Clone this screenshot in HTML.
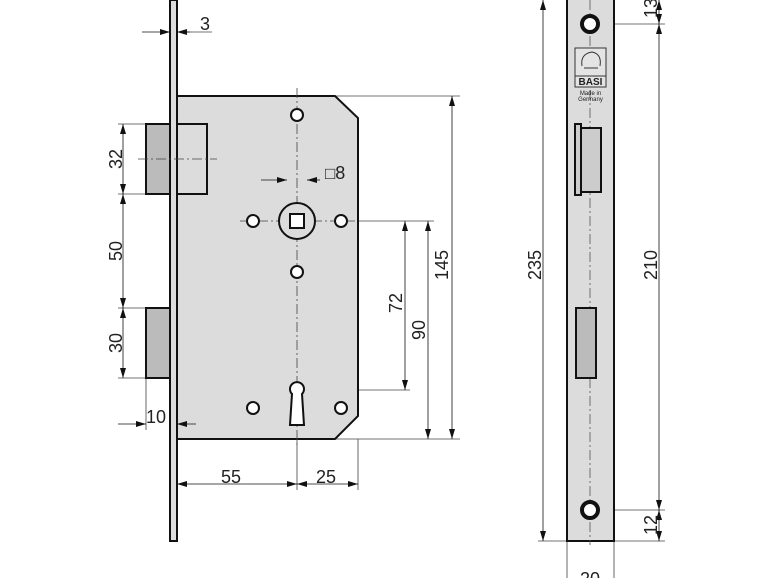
<!DOCTYPE html>
<html><head><style>body{margin:0;background:#fff}svg{display:block}text{font-family:"Liberation Sans",sans-serif;fill:#222}</style></head><body>
<svg width="770" height="578" viewBox="0 0 770 578">
<defs>
<marker id="a" viewBox="0 0 10 6" refX="10" refY="3" markerWidth="10" markerHeight="6" orient="auto-start-reverse" markerUnits="userSpaceOnUse"><path d="M0,0L10,3L0,6z" fill="#111"/></marker>
</defs>
<g stroke="#444" stroke-width="0.8" fill="none">
<line x1="118" y1="124" x2="146" y2="124"/><line x1="118" y1="194" x2="146" y2="194"/>
<line x1="118" y1="308" x2="146" y2="308"/><line x1="118" y1="378" x2="146" y2="378"/>
<line x1="146" y1="378" x2="146" y2="430"/>
<line x1="177" y1="439" x2="177" y2="490"/><line x1="297" y1="439" x2="297" y2="490"/><line x1="358" y1="439" x2="358" y2="490"/>
<line x1="335" y1="96" x2="460" y2="96"/><line x1="341" y1="221" x2="434" y2="221"/>
<line x1="305" y1="390" x2="410" y2="390"/><line x1="335" y1="439" x2="460" y2="439"/>
<line x1="287" y1="175" x2="287" y2="215"/><line x1="307" y1="175" x2="307" y2="215"/>
<line x1="600" y1="24" x2="665" y2="24"/><line x1="600" y1="510" x2="665" y2="510"/>
<line x1="538" y1="541" x2="665" y2="541"/>
<line x1="567" y1="541" x2="567" y2="578"/><line x1="614" y1="541" x2="614" y2="578"/>
<line x1="177" y1="32" x2="212" y2="32"/>
</g>
<rect x="170" y="0" width="7" height="541" fill="#ddd" stroke="#111" stroke-width="2"/>
<path d="M177,96H335L358,118V416L335,439H177z" fill="#dcdcdc" stroke="#111" stroke-width="2"/>
<rect x="146" y="124" width="24" height="70" fill="#bbb" stroke="#111" stroke-width="2"/>
<rect x="177" y="124" width="30" height="70" fill="#dcdcdc" stroke="#111" stroke-width="2"/>
<rect x="146" y="308" width="24" height="70" fill="#bbb" stroke="#111" stroke-width="2"/>
<g stroke="#444" stroke-width="0.8" stroke-dasharray="10,3,2,3" fill="none">
<line x1="297" y1="88" x2="297" y2="445"/><line x1="138" y1="159" x2="217" y2="159"/>
<line x1="240" y1="221" x2="355" y2="221"/>
</g>
<g fill="#fff" stroke="#111" stroke-width="2">
<circle cx="297" cy="221" r="18" fill="#dcdcdc"/>
<rect x="290" y="214" width="14" height="14"/>
<circle cx="297" cy="115" r="6"/><circle cx="253" cy="221" r="6"/><circle cx="341" cy="221" r="6"/>
<circle cx="297" cy="272" r="6"/><circle cx="253" cy="408" r="6"/><circle cx="341" cy="408" r="6"/>
<path d="M292,394 A7,7 0 1 1 302,394 L304,425 H290z"/>
</g>
<g stroke="#111" stroke-width="0.8" fill="none" marker-end="url(#a)">
<line x1="142" y1="32" x2="170" y2="32"/><line x1="190" y1="32" x2="177" y2="32"/>
<line x1="261" y1="180" x2="287" y2="180"/><line x1="320" y1="180" x2="307" y2="180"/>
<line x1="118" y1="424" x2="146" y2="424"/><line x1="196" y1="424" x2="177" y2="424"/>
</g>
<g stroke="#111" stroke-width="0.8" fill="none" marker-start="url(#a)" marker-end="url(#a)">
<line x1="123" y1="124" x2="123" y2="194"/><line x1="123" y1="194" x2="123" y2="308"/><line x1="123" y1="308" x2="123" y2="378"/>
<line x1="177" y1="484" x2="297" y2="484"/><line x1="297" y1="484" x2="358" y2="484"/>
<line x1="452" y1="96" x2="452" y2="439"/><line x1="428" y1="221" x2="428" y2="439"/><line x1="405" y1="221" x2="405" y2="390"/>
<line x1="543" y1="0" x2="543" y2="541"/><line x1="659" y1="24" x2="659" y2="510"/>
<line x1="659" y1="510" x2="659" y2="541"/>
<line x1="659" y1="0" x2="659" y2="24"/>
</g>
<g font-size="18">
<text x="200" y="30">3</text>
<text x="325" y="179"><tspan font-size="17">□</tspan>8</text>
<text x="146" y="423">10</text>
<text x="221" y="483">55</text><text x="316" y="483">25</text>
<text transform="translate(122,159) rotate(-90)" text-anchor="middle">32</text>
<text transform="translate(122,251) rotate(-90)" text-anchor="middle">50</text>
<text transform="translate(122,343) rotate(-90)" text-anchor="middle">30</text>
<text transform="translate(448,265) rotate(-90)" text-anchor="middle">145</text>
<text transform="translate(425,330) rotate(-90)" text-anchor="middle">90</text>
<text transform="translate(402,303) rotate(-90)" text-anchor="middle">72</text>
<text transform="translate(541,265) rotate(-90)" text-anchor="middle">235</text>
<text transform="translate(657,265) rotate(-90)" text-anchor="middle">210</text>
<text transform="translate(657,8) rotate(-90)" text-anchor="middle">13</text>
<text transform="translate(657,525) rotate(-90)" text-anchor="middle">12</text>
<text x="590" y="585" text-anchor="middle">20</text>
</g>
<rect x="567" y="-2" width="47" height="543" fill="#dcdcdc" stroke="#111" stroke-width="2"/>
<line x1="590" y1="0" x2="590" y2="545" stroke="#555" stroke-width="0.8" stroke-dasharray="10,3,2,3"/>
<circle cx="590" cy="24" r="8" fill="#fff" stroke="#111" stroke-width="4"/>
<circle cx="590" cy="510" r="8" fill="#fff" stroke="#111" stroke-width="4"/>
<rect x="575" y="48" width="31" height="28" fill="#e4e4e4" stroke="#333" stroke-width="1"/>
<path d="M582,66 q-2,-12 10,-14 q10,2 8,14 M584,68 h14" fill="none" stroke="#333" stroke-width="1"/>
<rect x="575" y="76" width="31" height="11" fill="#e4e4e4" stroke="#333" stroke-width="1"/>
<text x="590.5" y="85" font-size="10" text-anchor="middle" font-weight="bold" fill="#222">BASI</text>
<text x="590.5" y="95" font-size="6" text-anchor="middle" fill="#666">Made in</text>
<text x="590.5" y="101" font-size="6" text-anchor="middle" fill="#666">Germany</text>
<rect x="575" y="124" width="6" height="71" fill="#ccc" stroke="#111" stroke-width="2"/>
<rect x="581" y="128" width="20" height="64" fill="#ccc" stroke="#111" stroke-width="2"/>
<rect x="576" y="308" width="20" height="70" fill="#bbb" stroke="#111" stroke-width="2"/>
</svg>
</body></html>
